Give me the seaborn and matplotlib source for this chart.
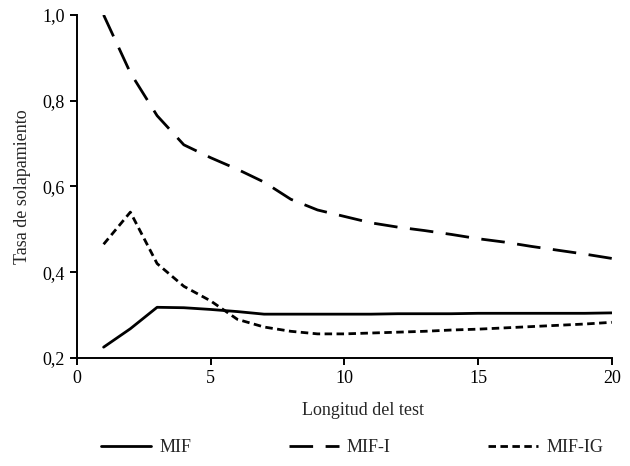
import numpy as np
import pandas as pd
import matplotlib
matplotlib.use('Agg')
import matplotlib.pyplot as plt
import seaborn as sns
from matplotlib.ticker import FuncFormatter

longitud = list(range(1, 21))
mif = [0.225, 0.268, 0.318, 0.317, 0.313, 0.308, 0.302, 0.302, 0.302, 0.302,
       0.302, 0.303, 0.303, 0.303, 0.304, 0.304, 0.304, 0.304, 0.304, 0.305]
mif_i = [1.0, 0.865, 0.765, 0.697, 0.667, 0.64, 0.61, 0.57, 0.545, 0.53,
         0.515, 0.505, 0.497, 0.488, 0.478, 0.47, 0.46, 0.451, 0.442, 0.432]
mif_ig = [0.465, 0.54, 0.42, 0.367, 0.333, 0.29, 0.272, 0.262, 0.256, 0.256,
          0.258, 0.26, 0.262, 0.265, 0.267, 0.27, 0.273, 0.276, 0.279, 0.283]
series = ['MIF', 'MIF-I', 'MIF-IG']

df = pd.DataFrame({
    'longitud': longitud * 3,
    'tasa': mif + mif_i + mif_ig,
    'serie': np.repeat(series, len(longitud)),
})

sns.set_style('ticks')
plt.rcParams['font.family'] = ['Liberation Serif', 'DejaVu Serif']

fig = plt.figure(figsize=(6.3, 4.66), dpi=100)
ax = fig.add_axes([0.122, 0.232, 0.849, 0.736])

dashes = {'MIF': '', 'MIF-I': (8.5, 4.5), 'MIF-IG': (2.7, 1.6)}
sns.lineplot(data=df, x='longitud', y='tasa', style='serie', dashes=dashes,
             color='black', linewidth=2.0, ax=ax, legend=True)

ax.set_xlim(0, 20)
ax.set_ylim(0.2, 1.0)
ax.set_xticks([0, 5, 10, 15, 20])
ax.set_yticks([0.2, 0.4, 0.6, 0.8, 1.0])
ax.yaxis.set_major_formatter(FuncFormatter(lambda v, p: f'{v:.1f}'.replace('.', ',')))
ax.tick_params(labelsize=13, length=5, width=1.4, color='black', labelcolor='black')
for s in ['left', 'bottom']:
    ax.spines[s].set_linewidth(1.4)
    ax.spines[s].set_color('black')
sns.despine(ax=ax)
ax.set_xlabel('Longitud del test', fontsize=13)
ax.xaxis.set_label_coords(0.535, -0.13)
ax.set_ylabel('Tasa de solapamiento', fontsize=13, labelpad=8)

handles, labels = ax.get_legend_handles_labels()
ax.get_legend().remove()
fig.legend(handles, labels, loc='center', bbox_to_anchor=(0.559, 0.039), ncol=3,
           frameon=False, fontsize=13, handlelength=2.77, columnspacing=5.4,
           handletextpad=0.44)

fig.savefig('out.png', dpi=100)
